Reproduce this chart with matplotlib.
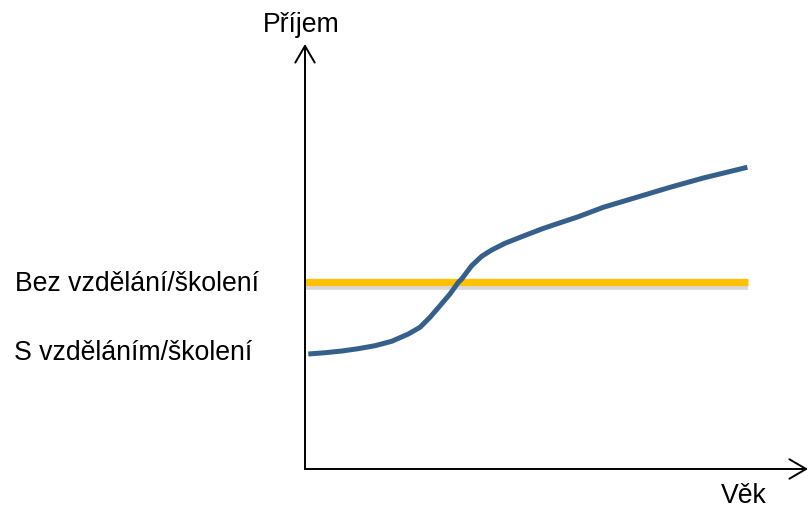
import matplotlib
matplotlib.use("Agg")
import matplotlib.pyplot as plt
import matplotlib.patheffects as pe

plt.rcParams['font.family'] = ['Liberation Sans', 'DejaVu Sans']

# Data (arbitrary units: age 0-100, income 0-100)
age_with = [0.65, 3.96, 7.27, 10.55, 13.86, 17.17, 20.46, 22.77, 24.75, 26.73, 28.71,
            30.36, 31.03, 33.01, 34.99, 36.97, 39.60, 42.91, 46.87, 49.17, 54.12, 59.07,
            65.68, 72.28, 78.87, 87.6]
income_with = [27.06, 27.36, 27.76, 28.31, 29.01, 30.05, 31.76, 33.34, 35.69, 38.42, 41.18,
               43.93, 44.71, 47.84, 50.05, 51.53, 53.11, 54.66, 56.47, 57.41, 59.36, 61.58,
               63.93, 66.28, 68.47, 71.0]
age_without = [0.0, 87.7]
income_without = [43.9, 43.9]

label_without = "Bez vzdělání/školení"
label_with = "S vzděláním/školení"
x_label = "Věk"
y_label = "Příjem"

W, H = 810, 510
fig = plt.figure(figsize=(W / 100, H / 100), dpi=100)
ax = fig.add_axes([305 / W, (H - 470) / H, (810 - 305) / W, (470 - 45) / H])
ax.set_xlim(0, 100)
ax.set_ylim(0, 100)
ax.axis('off')

ax.plot(age_without, income_without, color='#FFC000', lw=5.2, solid_capstyle='butt',
        path_effects=[pe.SimpleLineShadow(offset=(0, -2.0), shadow_color='gray', alpha=0.3,
                                          linewidth=7),
                      pe.Normal()], zorder=2)
ax.plot(age_with, income_with, color='#36608C', lw=3.6, solid_capstyle='butt',
        solid_joinstyle='round', zorder=3)

arrow = dict(arrowstyle='->,head_length=1.2,head_width=0.7', lw=1.4, color='black',
             shrinkA=0, shrinkB=0)
ax.annotate('', xy=(0, 1), xytext=(0, 0), xycoords='axes fraction', arrowprops=arrow,
            annotation_clip=False)
ax.annotate('', xy=(0.996, 0), xytext=(0, 0), xycoords='axes fraction', arrowprops=arrow,
            annotation_clip=False)

fs = 19.2
fig.text(301 / W, 1 - 25 / H, y_label, ha='center', va='center', fontsize=fs)
fig.text(744 / W, 1 - 496 / H, x_label, ha='center', va='center', fontsize=fs)
fig.text(15 / W, 1 - 284 / H, label_without, ha='left', va='center', fontsize=fs)
fig.text(14 / W, 1 - 353 / H, label_with, ha='left', va='center', fontsize=fs)

fig.savefig('out.png', dpi=100, facecolor='white')
